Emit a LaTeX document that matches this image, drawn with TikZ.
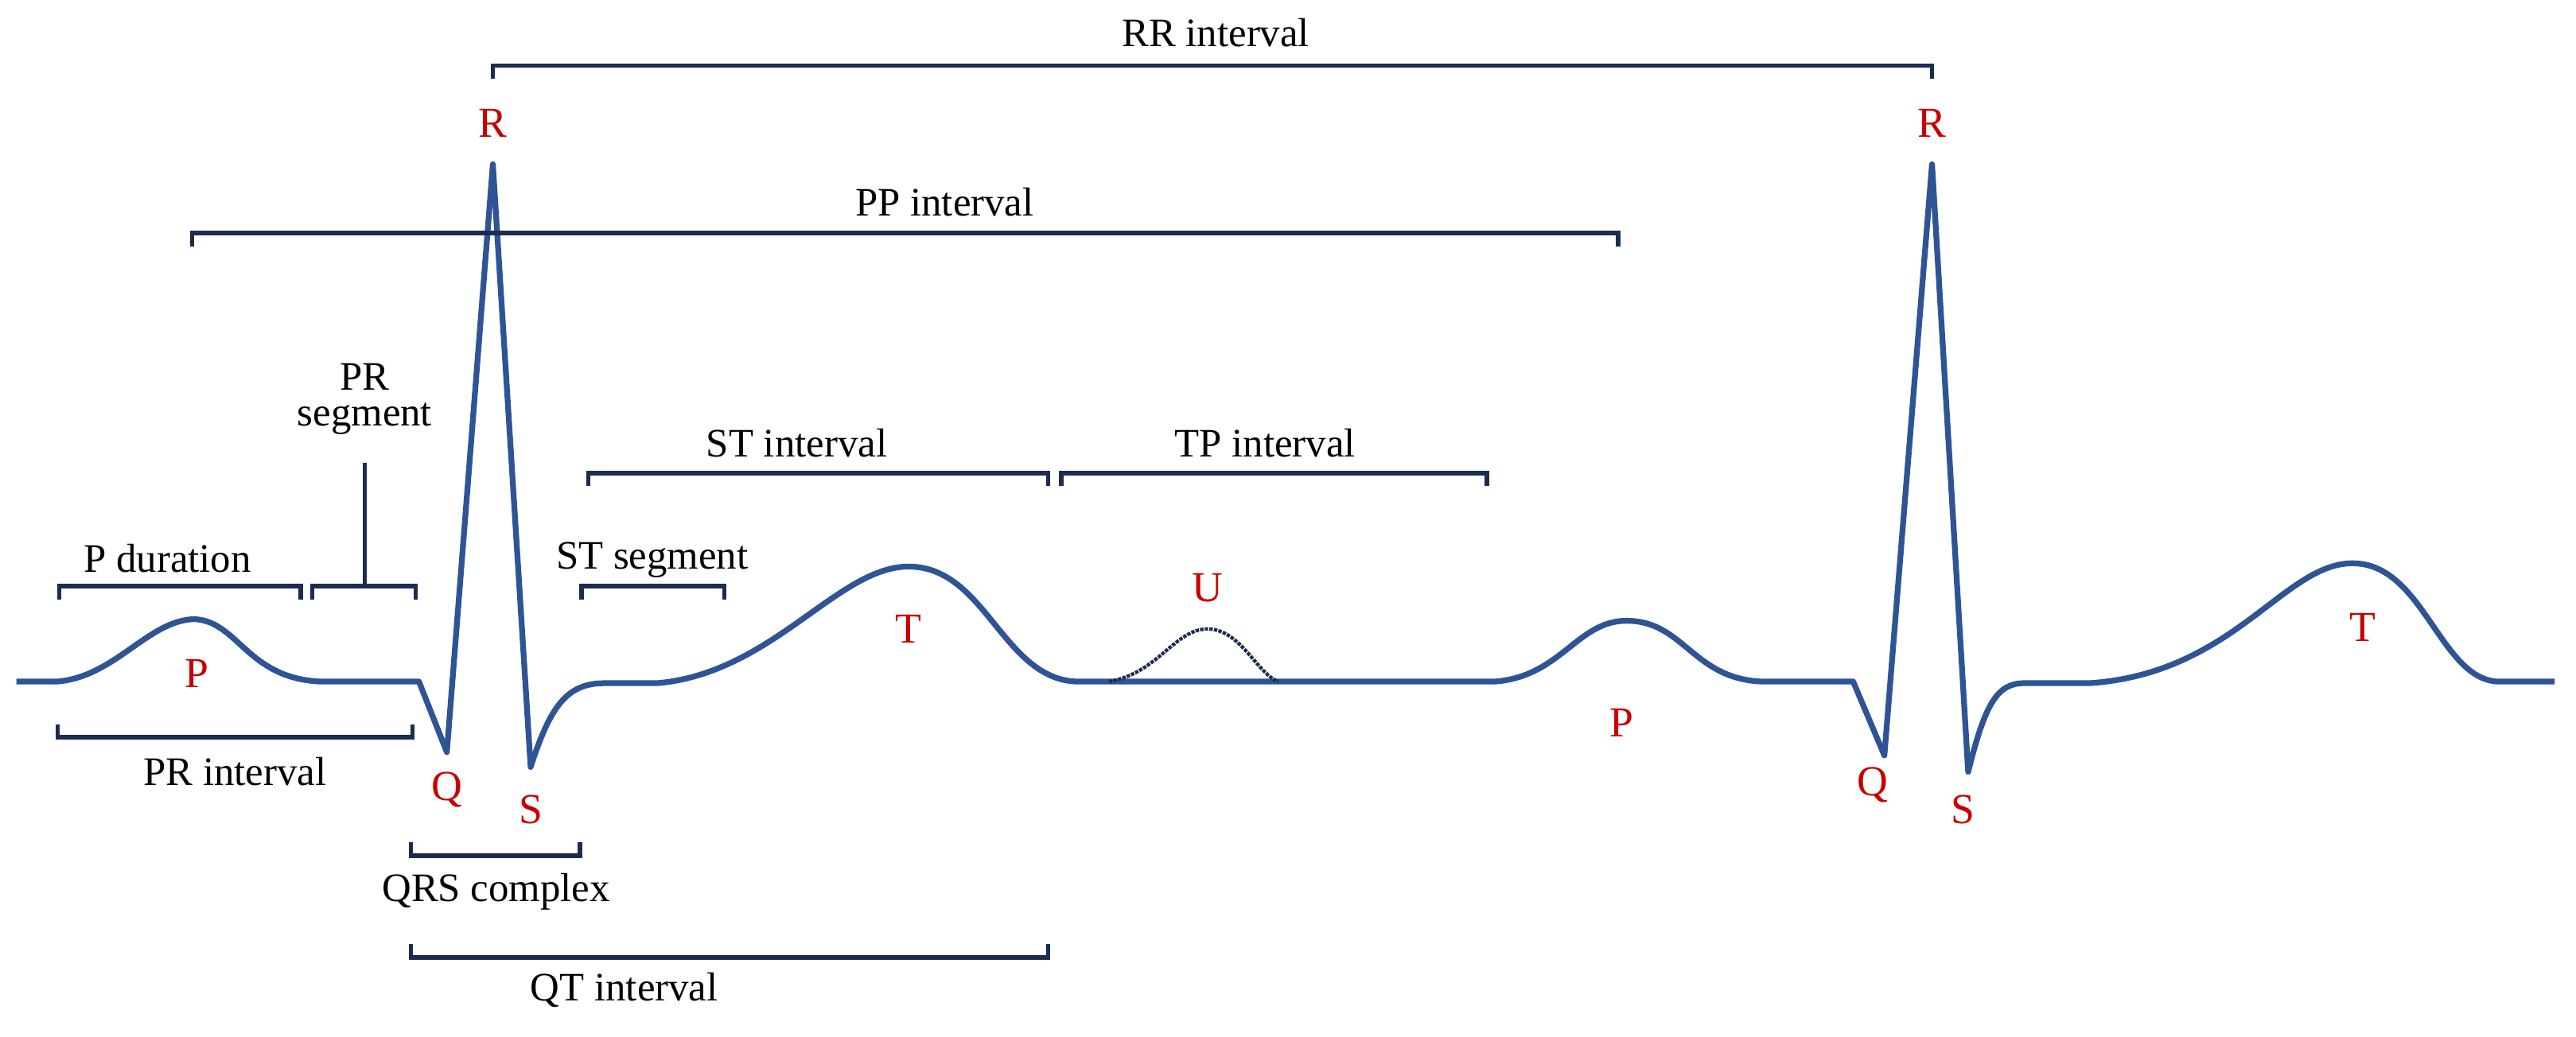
\documentclass[tikz,border=0pt]{standalone}
\usepackage{fontspec}
\setmainfont{Liberation Serif}
\newfontfamily\ecgfont{Liberation Serif}
\definecolor{wave}{RGB}{47,84,150}
\definecolor{brak}{RGB}{28,44,80}
\definecolor{lbl}{RGB}{200,0,0}
\tikzset{
  wave/.style={draw=wave, line width=5pt, line join=round},
  bracket/.style={draw=brak, line width=3.8pt},
  txt/.style={font=\ecgfont\fontsize{35}{37}\selectfont, inner sep=0},
  peak/.style={font=\ecgfont\fontsize{37}{40}\selectfont, text=lbl, inner sep=0}
}
\begin{document}
\begin{tikzpicture}[x=0.05cm, y=-0.05cm]
	\useasboundingbox (0,0) rectangle (1568,631);

	% waveform
	\draw[wave] (10,415) -- (35,415) .. controls (70,412) and (90,378) .. (118,377)
		.. controls (145,378) and (150,413) .. (195,415) -- (255,415)
		-- (272,458) -- (300,100) -- (323,467)
		.. controls (335,430) and (345,416) .. (368,416) -- (400,416)
		.. controls (470,410) and (510,345) .. (553,345)
		.. controls (600,345) and (610,413) .. (655,415) -- (910,415)
		.. controls (950,412) and (960,378) .. (990,378)
		.. controls (1025,378) and (1030,413) .. (1072,415) -- (1128,415)
		-- (1147,460) -- (1176,100) -- (1198,470)
		.. controls (1208,430) and (1215,416) .. (1232,416) -- (1272,416)
		.. controls (1360,410) and (1390,343) .. (1432,343)
		.. controls (1475,343) and (1485,413) .. (1520,415) -- (1555,415);
	\draw[brak, line width=3pt, densely dotted] (675,415) .. controls (705,410) and (715,383) .. (735,383)
		.. controls (755,383) and (765,410) .. (778,415);

	% brackets
	\draw[bracket] (300,48) -- (300,40) -- (1176,40) -- (1176,48);
	\draw[bracket] (117,150) -- (117,142) -- (985,142) -- (985,150);
	\draw[bracket] (358,296) -- (358,288) -- (638,288) -- (638,296);
	\draw[bracket] (646,296) -- (646,288) -- (905,288) -- (905,296);
	\draw[bracket] (36,365) -- (36,357) -- (183,357) -- (183,365);
	\draw[bracket] (190,365) -- (190,357) -- (253,357) -- (253,365);
	\draw[bracket] (222,357) -- (222,282);
	\draw[bracket] (354,365) -- (354,357) -- (441,357) -- (441,365);
	\draw[bracket] (35,441) -- (35,449) -- (251,449) -- (251,441);
	\draw[bracket] (250,513) -- (250,521) -- (353,521) -- (353,513);
	\draw[bracket] (250,575) -- (250,583) -- (638,583) -- (638,575);

	% interval labels
	\node[txt] (rr) at (740,20) {RR interval};
	\node[txt] (pp) at (575,123) {PP interval};
	\node[txt] (st) at (485,270) {ST interval};
	\node[txt] (tp) at (770,270) {TP interval};
	\node[txt] (pdur) at (102,340) {P duration};
	\node[txt, align=center] (prseg) at (222,243) {PR\\[-6pt]segment};
	\node[txt] (stseg) at (397,341) {ST segment};
	\node[txt] (print) at (143,470) {PR interval};
	\node[txt] (qrs) at (302,543) {QRS complex};
	\node[txt] (qt) at (380,603) {QT interval};

	% wave labels
	\node[peak] (r1) at (300,75) {R};
	\node[peak] (p1) at (120,410) {P};
	\node[peak] (q1) at (272,481) {Q};
	\node[peak] (s1) at (323,493) {S};
	\node[peak] (t1) at (553,383) {T};
	\node[peak] (u) at (735,358) {U};
	\node[peak] (p2) at (987,440) {P};
	\node[peak] (r2) at (1176,75) {R};
	\node[peak] (q2) at (1140,478) {Q};
	\node[peak] (s2) at (1195,493) {S};
	\node[peak] (t2) at (1438,382) {T};
\end{tikzpicture}
\end{document}
